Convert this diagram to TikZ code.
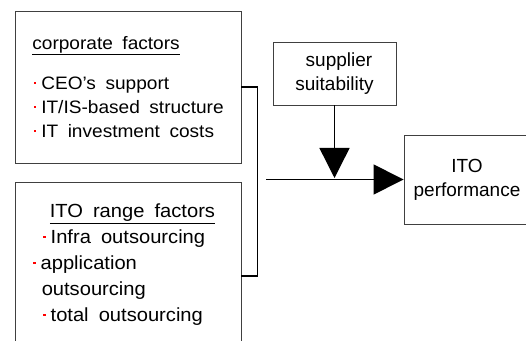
\documentclass[tikz,border=0pt]{standalone}
\usepackage{xcolor}
\usepackage{fontspec}
\usepackage{tikz}
\usetikzlibrary{arrows.meta,positioning}
\newfontfamily\gulim[FakeStretch=1.06,WordSpace=1.8]{Liberation Sans}
\newfontfamily\helv{Liberation Sans}
\newcommand{\redpt}{\hspace{1.5pt}\textcolor{red}{\rule[5.5pt]{2.4pt}{2.4pt}}\hspace{5pt}}

\begin{document}
\begin{tikzpicture}[x=1pt, y=1pt,
    panel/.style={rectangle, draw=black!75, line width=0.9pt, inner sep=0pt},
    list/.style={align=left, inner sep=0pt, font=\gulim\fontsize{19}{26}\selectfont},
    label/.style={align=center, font=\helv\fontsize{19}{24}\selectfont},
    arrow/.style={-{Triangle[length=30pt, width=30pt]}, line width=1.4pt},
    bracket/.style={line width=1.2pt}]

    \useasboundingbox (0,0) rectangle (526,340);
    \clip (0,0) rectangle (526,340);

    \node [panel, minimum width=226pt, minimum height=152pt, align=left,
           font=\gulim\fontsize{18}{24}\selectfont] (corp) at (128,253)
        {\underline{corporate factors}\\[16pt]
         \redpt CEO’s support\\
         \redpt IT/IS-based structure\\
         \redpt IT investment costs};
    \node [panel, minimum width=226pt, minimum height=186pt, below=19pt of corp] (range) {};
    \node [list, anchor=north west] (rangetext) at ([xshift=17pt, yshift=-21pt]range.north west)
        {\hspace*{18pt}\underline{ITO range factors}\\
         \hspace*{10pt}\redpt Infra outsourcing\\
         \redpt application\\
         \hspace*{10pt}outsourcing\\
         \hspace*{10pt}\redpt total outsourcing};

    \node [panel, label, minimum width=123pt, minimum height=63pt] (supp) at (334.5,266.5)
        {\hspace*{9pt}supplier\\suitability};
    \node [panel, label, minimum width=126pt, minimum height=89pt] (perf) at (467,160.5)
        {ITO\\performance};

    \coordinate (join) at (266,160.5);
    \coordinate (meet) at (334.5,162);

    \draw [bracket] (corp.east) -- ++(16,0) |- (range.east);
    \draw [arrow] (join) -- (perf.west);
    \draw [arrow] (supp.south) -- (meet);
\end{tikzpicture}
\end{document}
